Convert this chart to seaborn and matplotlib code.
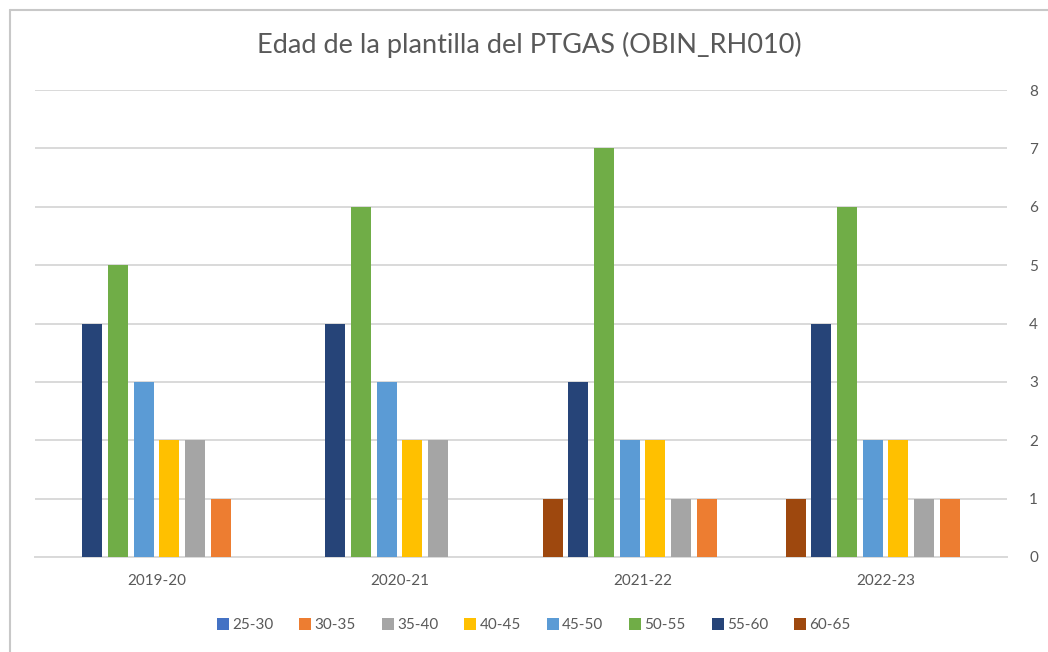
import matplotlib
matplotlib.use("Agg")
import matplotlib.pyplot as plt
from matplotlib.lines import Line2D
import pandas as pd
import seaborn as sns

# Academic years on the category axis
years = ["2019-20", "2020-21", "2021-22", "2022-23"]

# Age bands (legend order)
age_bands = ["25-30", "30-35", "35-40", "40-45", "45-50", "50-55", "55-60", "60-65"]

# Staff counts per age band, one value per academic year
count_25_30 = [0, 0, 0, 0]
count_30_35 = [1, 0, 1, 1]
count_35_40 = [2, 2, 1, 1]
count_40_45 = [2, 2, 2, 2]
count_45_50 = [3, 3, 2, 2]
count_50_55 = [5, 6, 7, 6]
count_55_60 = [4, 4, 3, 4]
count_60_65 = [0, 0, 1, 1]

y_ticks = [0, 1, 2, 3, 4, 5, 6, 7, 8]

band_colors = ["#4472C4", "#ED7D31", "#A5A5A5", "#FFC000",
               "#5B9BD5", "#70AD47", "#264478", "#9E480E"]

series = [count_25_30, count_30_35, count_35_40, count_40_45,
          count_45_50, count_50_55, count_55_60, count_60_65]

rows = []
for band, values in zip(age_bands, series):
    for year, v in zip(years, values):
        rows.append({"Curso": year, "Edad": band, "Personas": v})
df = pd.DataFrame(rows)

sns.set_theme(style="white")
plt.rcParams["font.family"] = ["Lato", "DejaVu Sans"]
text_color = "#595959"
grid_color = "#D9D9D9"

fig = plt.figure(figsize=(10.48, 6.52), dpi=100)
ax = fig.add_axes([35 / 1048, (652 - 557) / 652, 972 / 1048, 467 / 652])

palette = dict(zip(age_bands, band_colors))
sns.barplot(data=df, x="Curso", y="Personas", hue="Edad",
            order=years, hue_order=age_bands[::-1], palette=palette,
            width=0.846, gap=0.22, linewidth=0, saturation=1,
            legend=True, ax=ax, zorder=3)

ax.set_xlim(-0.5, 3.5)
ax.set_ylim(0, 8)
ax.set_yticks(y_ticks)
ax.yaxis.tick_right()
ax.grid(axis="y", color=grid_color, linewidth=1.4, zorder=0)
ax.set_axisbelow(True)
for side in ["left", "right", "top"]:
    ax.spines[side].set_visible(False)
ax.spines["bottom"].set_color(grid_color)
ax.spines["bottom"].set_linewidth(1.4)
ax.tick_params(axis="y", length=0, pad=16, labelsize=11, labelcolor=text_color)
ax.tick_params(axis="x", length=0, pad=12, labelsize=11, labelcolor=text_color)
ax.set_xlabel("")
ax.set_ylabel("")

# Legend in age-band order, centered under the chart
ax.get_legend().remove()
legend_handles = [Line2D([], [], marker="s", linestyle="none", markersize=8,
                         markerfacecolor=palette[b], markeredgewidth=0)
                  for b in age_bands]
fig.legend(legend_handles, age_bands, loc="center", ncol=8,
           bbox_to_anchor=(533 / 1048, (652 - 625) / 652), frameon=False,
           fontsize=11, labelcolor=text_color, handletextpad=0.1,
           columnspacing=1.6, handlelength=1.0)

fig.text(529 / 1048, (652 - 45) / 652, "Edad de la plantilla del PTGAS (OBIN_RH010)",
         ha="center", va="center", fontsize=19.5, color=text_color)

# Chart frame edges
fig.add_artist(Line2D([9.5 / 1048, 9.5 / 1048], [0, (652 - 10) / 652],
                      color="#C8C8C8", linewidth=1.5, transform=fig.transFigure))
fig.add_artist(Line2D([9.5 / 1048, 1], [(652 - 10) / 652, (652 - 10) / 652],
                      color="#C8C8C8", linewidth=1.5, transform=fig.transFigure))

fig.savefig("out.png", dpi=100, facecolor="white")
